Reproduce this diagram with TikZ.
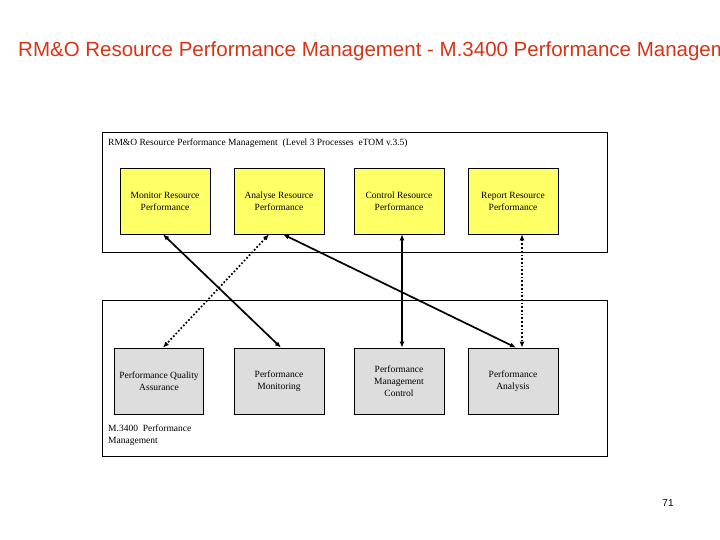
\documentclass[tikz,border=0pt]{standalone}
\usepackage{fontspec}
\setmainfont{Liberation Serif}
\newfontfamily\titlefont{Liberation Sans}
\usetikzlibrary{arrows.meta}
\definecolor{titlered}{RGB}{214,52,22}
\definecolor{boxyellow}{RGB}{255,255,102}
\definecolor{boxgray}{RGB}{221,221,221}
\begin{document}
\begin{tikzpicture}[x=1pt,y=-1pt,
  panel/.style={draw,line width=0.8pt},
  ybox/.style={draw,line width=0.7pt,fill=boxyellow,minimum width=90pt,minimum height=66pt,align=center,font=\fontsize{9.5}{12}\selectfont,inner sep=1pt},
  gbox/.style={draw,line width=0.7pt,fill=boxgray,minimum width=90pt,minimum height=66pt,align=center,font=\fontsize{9.5}{12}\selectfont,inner sep=1pt},
  lnk/.style={line width=1.7pt,{Latex[length=6pt,width=5pt]}-{Latex[length=6pt,width=5pt]}},
  dlnk/.style={lnk,dotted}]
\useasboundingbox (0,0) rectangle (720,540);
\clip (0,0) rectangle (720,540);
\node[anchor=west,font=\titlefont\fontsize{20.5}{23}\selectfont,text=titlered,inner sep=0] (title) at (18,51) {RM\&O Resource Performance Management - M.3400 Performance Management};
\draw[panel] (102,132) rectangle (607,252);
\draw[panel] (102,300) rectangle (607,456);
\node[anchor=west,font=\fontsize{9.5}{12}\selectfont,inner sep=0] (toplbl) at (108,143) {RM\&O Resource Performance Management\ \ (Level 3 Processes\ \ eTOM v.3.5)};
\node[anchor=north west,align=left,font=\fontsize{9.5}{12}\selectfont,inner sep=0] (botlbl) at (108,425) {M.3400\ \ Performance\\Management};
\node[ybox] (mon) at (165,201) {Monitor Resource\\Performance};
\node[ybox] (ana) at (279,201) {Analyse Resource\\Performance};
\node[ybox] (con) at (399,201) {Control Resource\\Performance};
\node[ybox] (rep) at (513,201) {Report Resource\\Performance};
\node[gbox,minimum width=89pt] (pqa) at (159,381) {Performance Quality\\Assurance};
\node[gbox] (pm) at (279,381) {Performance\\Monitoring};
\node[gbox] (pmc) at (399,381) {Performance\\Management\\Control};
\node[gbox] (pa) at (513,381) {Performance\\Analysis};
\draw[lnk] ([xshift=-2pt]mon.south) -- ([xshift=2pt]pm.north);
\draw[dlnk] ([xshift=-10pt]ana.south) -- ([xshift=4pt]pqa.north);
\draw[lnk] ([xshift=4pt]ana.south) -- ([xshift=3pt]pa.north);
\draw[lnk] ([xshift=3pt]con.south) -- ([xshift=3pt]pmc.north);
\draw[dlnk] ([xshift=9pt]rep.south) -- ([xshift=9pt]pa.north);
\node[font=\titlefont\fontsize{10}{12}\selectfont] (pg) at (668,503) {71};
\end{tikzpicture}
\end{document}
